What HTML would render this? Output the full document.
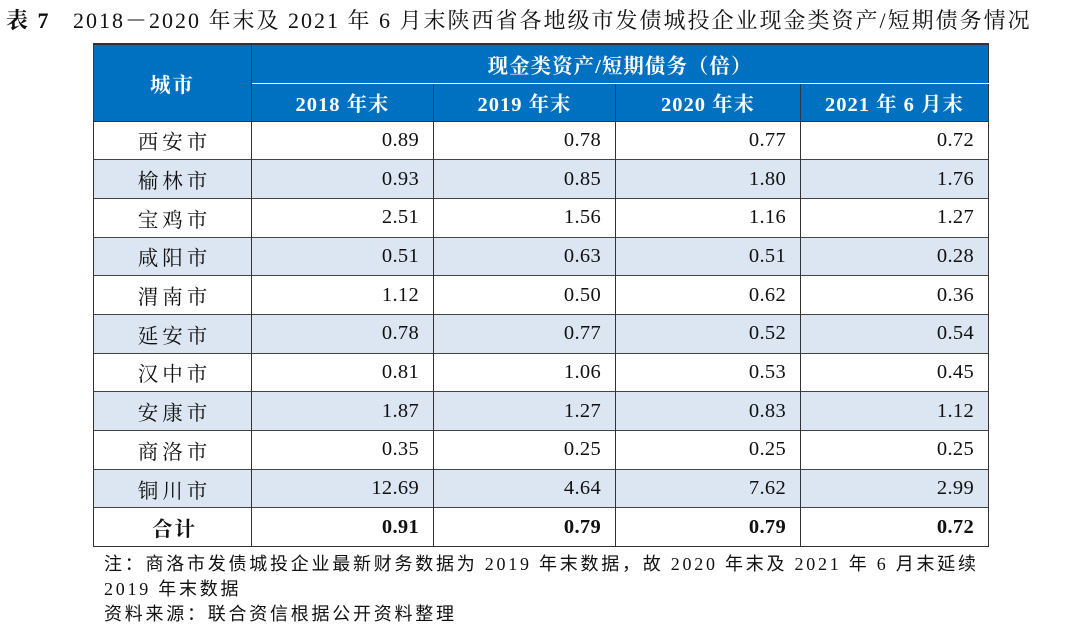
<!DOCTYPE html>
<html><head><meta charset="utf-8"><style>
body{margin:0;width:1080px;height:634px;background:#fff;font-family:"Liberation Serif","Noto Serif CJK SC",serif;color:#111;position:relative;overflow:hidden}
.t{position:absolute;left:6px;top:4px;font-size:22px;white-space:nowrap;letter-spacing:2px}
table{position:absolute;left:93px;top:43px;border-collapse:collapse;font-size:20.5px;letter-spacing:0.3px}
td{border-left:1.5px solid #333;border-right:1.5px solid #333;padding:0 14px;height:38.7px;box-sizing:border-box;text-align:right}
td.c{text-align:center;letter-spacing:4px;padding-left:18px}
tr{border-bottom:1px solid #444}
.h td{background:#0070c0;color:#fff;font-weight:bold;text-align:center;border-color:#fff #2a3a4a;letter-spacing:1px}
.h1 td{height:39px}
.h2 td{height:38px}
.b td{background:#dce6f2}
.tot td{font-weight:bold;border-bottom:1.5px solid #333}
table{border-top:2px solid #333}
.n{position:absolute;left:104px;font-size:18px;letter-spacing:2.75px;white-space:nowrap;font-family:"Liberation Serif","Noto Sans CJK SC",sans-serif}
</style></head><body>
<div class="t"><b>表 7</b>&nbsp;&nbsp;&nbsp;2018－2020 年末及 2021 年 6 月末陕西省各地级市发债城投企业现金类资产/短期债务情况</div>
<table>
<colgroup><col style="width:158px"><col style="width:182px"><col style="width:182px"><col style="width:185px"><col style="width:188px"></colgroup>
<tr class="h h1"><td rowspan="2" style="border-bottom:1px solid #333;letter-spacing:2px">城市</td><td colspan="4" style="border-bottom:1px solid #fff">现金类资产/短期债务（倍）</td></tr>
<tr class="h h2" style="border-bottom:1.5px solid #333"><td>2018 年末</td><td>2019 年末</td><td>2020 年末</td><td>2021 年 6 月末</td></tr>
<tr><td class="c">西安市</td><td>0.89</td><td>0.78</td><td>0.77</td><td>0.72</td></tr>
<tr class="b"><td class="c">榆林市</td><td>0.93</td><td>0.85</td><td>1.80</td><td>1.76</td></tr>
<tr><td class="c">宝鸡市</td><td>2.51</td><td>1.56</td><td>1.16</td><td>1.27</td></tr>
<tr class="b"><td class="c">咸阳市</td><td>0.51</td><td>0.63</td><td>0.51</td><td>0.28</td></tr>
<tr><td class="c">渭南市</td><td>1.12</td><td>0.50</td><td>0.62</td><td>0.36</td></tr>
<tr class="b"><td class="c">延安市</td><td>0.78</td><td>0.77</td><td>0.52</td><td>0.54</td></tr>
<tr><td class="c">汉中市</td><td>0.81</td><td>1.06</td><td>0.53</td><td>0.45</td></tr>
<tr class="b"><td class="c">安康市</td><td>1.87</td><td>1.27</td><td>0.83</td><td>1.12</td></tr>
<tr><td class="c">商洛市</td><td>0.35</td><td>0.25</td><td>0.25</td><td>0.25</td></tr>
<tr class="b"><td class="c">铜川市</td><td>12.69</td><td>4.64</td><td>7.62</td><td>2.99</td></tr>
<tr class="tot"><td class="c" style="letter-spacing:2px">合计</td><td>0.91</td><td>0.79</td><td>0.79</td><td>0.72</td></tr>
</table>
<div class="n" style="top:550px">注：商洛市发债城投企业最新财务数据为 2019 年末数据，故 2020 年末及 2021 年 6 月末延续</div>
<div class="n" style="top:575px">2019 年末数据</div>
<div class="n" style="top:600px">资料来源：联合资信根据公开资料整理</div>
</body></html>
